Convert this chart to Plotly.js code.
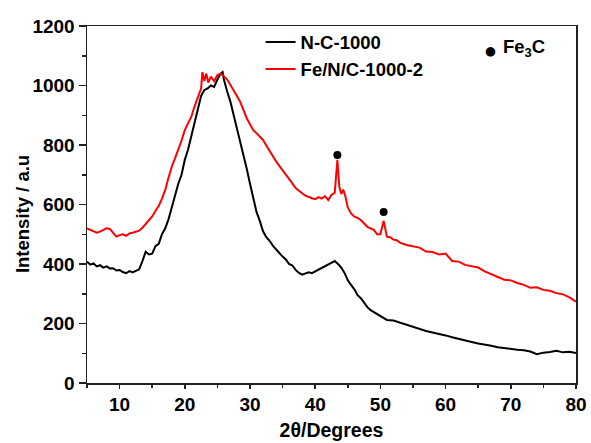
<!DOCTYPE html>
<html>
<head>
<meta charset="utf-8">
<script src="https://cdn.plot.ly/plotly-3.0.1.min.js"></script>
<style>html,body{margin:0;padding:0;background:#fff;}#chart{width:591px;height:443px;}</style>
</head>
<body>
<div id="chart"></div>
<script>
// N-C-1000
const ncX = [5,5.5,6,6.5,7,7.5,8,8.5,9,9.5,10,10.5,11,11.5,12,12.5,13,13.5,14,14.5,15,15.5,16,16.5,17,17.5,18,18.5,19,19.5,20,20.5,21,21.5,22,22.5,23,23.5,24,24.5,25,25.5,25.8,26,26.5,27,27.5,28,28.5,29,29.5,30,30.5,31,31.5,32,32.5,33,33.5,34,34.5,35,35.5,36,36.5,37,37.5,38,38.5,39,39.5,40,40.5,41,41.5,42,42.5,43,43.5,44,44.5,45,45.5,46,46.5,47,47.5,48,48.5,49,49.5,50,51,52,53,54,55,56,57,58,59,60,61,62,63,64,65,66,67,68,69,70,71,72,73,74,75,76,77,78,79,80];
const ncY = [408,398,402,392,396,388,392,385,386,378,380,373,369,376,372,378,382,410,441,432,435,460,468,500,520,550,590,638,670,700,750,785,830,884,930,965,985,990,1000,995,1020,1040,1045,1020,980,945,900,855,820,770,720,670,620,575,545,510,490,478,462,448,437,425,415,400,395,380,370,364,368,372,369,375,380,385,392,398,405,410,400,388,370,345,330,315,295,285,270,255,245,238,232,225,212,210,203,195,188,182,175,170,166,160,154,148,143,138,133,130,125,120,117,113,112,110,106,97,102,104,108,103,105,101];
// Fe/N/C-1000-2
const feX = [5,5.5,6,6.5,7,7.5,8,8.5,9,9.5,10,10.5,11,11.5,12,12.5,13,13.5,14,14.5,15,15.5,16,16.5,17,17.5,18,18.5,19,19.5,20,20.5,21,21.5,22,22.5,22.7,23,23.3,23.6,24,24.5,25,25.5,26,26.5,27,27.5,28,28.5,29,29.5,30,30.5,31,31.5,32,32.5,33,33.5,34,34.5,35,35.5,36,36.5,37,37.5,38,38.5,39,39.5,40,40.5,41,41.5,42,42.5,43,43.4,43.7,44,44.3,44.6,45,45.5,46,46.5,47,47.5,48,48.5,49,49.5,50,50.5,50.8,51,51.5,52,52.5,53,54,55,56,57,58,59,60,61,62,63,64,65,66,67,68,69,70,71,72,73,74,75,76,77,78,79,80];
const feY = [520,515,512,505,509,515,520,518,505,492,497,500,495,503,505,509,512,522,535,548,560,578,595,620,649,690,727,755,783,815,850,870,895,930,962,990,1045,1015,1040,1010,1030,1015,1035,1040,1030,1020,1002,985,965,945,915,890,870,850,840,830,817,798,780,761,745,730,716,700,685,671,655,645,638,630,625,621,618,625,620,628,615,632,640,750,660,635,650,630,590,570,559,555,548,535,525,520,515,500,500,545,505,492,490,482,480,472,464,460,455,442,440,432,435,410,408,397,392,388,375,365,355,347,345,336,330,320,322,313,310,302,298,288,273];
// Fe3C peak markers
const peakX = [43.4, 50.5];
const peakY = [766, 575];

const names = ['N-C-1000', 'Fe/N/C-1000-2'];
const xTitle = '2θ/Degrees';
const yTitle = 'Intensity / a.u';

const FONT = 'Liberation Sans, Arial, sans-serif';
const axisCol = '#222';

const traces = [
  {x: ncX, y: ncY, type: 'scatter', mode: 'lines', name: names[0], line: {color: '#000', width: 2}},
  {x: feX, y: feY, type: 'scatter', mode: 'lines', name: names[1], line: {color: '#ff0000', width: 2}},
  {x: peakX, y: peakY, type: 'scatter', mode: 'markers', showlegend: false, marker: {color: '#000', size: 8}}
];

const layout = {
  width: 591, height: 443,
  margin: {l: 87, r: 15, t: 26, b: 60},
  paper_bgcolor: '#fff', plot_bgcolor: '#fff',
  font: {family: FONT, color: '#000', size: 19, weight: 'bold'},
  showlegend: true,
  legend: {x: 0.355, y: 1.007, xanchor: 'left', yanchor: 'top', bgcolor: 'rgba(0,0,0,0)',
           font: {family: FONT, size: 18.5, color: '#000', weight: 'bold'}, tracegroupgap: 0, itemwidth: 30},
  xaxis: {
    range: [5, 80], tick0: 0, dtick: 10, ticks: 'outside', ticklen: 4, tickwidth: 1.5, tickcolor: axisCol,
    minor: {dtick: 5, ticks: 'outside', ticklen: 3, tickwidth: 1.5, tickcolor: axisCol},
    showline: true, linecolor: axisCol, linewidth: 1.5, mirror: true, showgrid: false, zeroline: false,
    tickfont: {family: FONT, size: 19, color: '#000', weight: 'bold'},
    title: {text: xTitle, font: {family: FONT, size: 19.5, color: '#000', weight: 'bold'}, standoff: 9}
  },
  yaxis: {
    range: [0, 1200], tick0: 0, dtick: 200, ticks: 'outside', ticklen: 7, tickwidth: 1.5, tickcolor: axisCol,
    minor: {dtick: 100, ticks: 'outside', ticklen: 4, tickwidth: 1.5, tickcolor: axisCol},
    showline: true, linecolor: axisCol, linewidth: 1.5, mirror: true, showgrid: false, zeroline: false,
    tickfont: {family: FONT, size: 19, color: '#000', weight: 'bold'}
  },
  yaxis2: {
    range: [0, 1200], overlaying: 'y', side: 'right', anchor: 'x', dtick: 200, tick0: 0,
    ticks: 'inside', ticklen: 5, tickwidth: 1.5, tickcolor: axisCol, showticklabels: false,
    minor: {dtick: 100, ticks: 'inside', ticklen: 3, tickwidth: 1.5, tickcolor: axisCol},
    showgrid: false, zeroline: false, showline: false
  },
  xaxis2: {
    range: [5, 80], overlaying: 'x', side: 'top', anchor: 'y', dtick: 10, tick0: 0,
    ticks: 'inside', ticklen: 2, tickwidth: 1.5, tickcolor: axisCol, showticklabels: false,
    minor: {dtick: 5, ticks: 'inside', ticklen: 2, tickwidth: 1.5, tickcolor: axisCol},
    showgrid: false, zeroline: false, showline: false
  },
  annotations: [
    {xref: 'paper', yref: 'paper', x: -0.133, y: 0.473, xanchor: 'center', yanchor: 'middle', textangle: -90,
     text: yTitle, showarrow: false, font: {family: FONT, size: 18.5, color: '#000', weight: 'bold'}},
    {xref: 'paper', yref: 'paper', x: 0.826, y: 0.932, xanchor: 'center', yanchor: 'middle',
     text: '●', showarrow: false, font: {family: 'DejaVu Sans', size: 12.5, color: '#000'}},
    {xref: 'paper', yref: 'paper', x: 0.847, y: 0.938, xanchor: 'left', yanchor: 'middle',
     text: 'Fe<sub>3</sub>C', showarrow: false, font: {family: FONT, size: 18.5, color: '#000', weight: 'bold'}}
  ]
};

Plotly.newPlot('chart', traces, layout, {displayModeBar: false, staticPlot: true});
</script>
</body>
</html>
